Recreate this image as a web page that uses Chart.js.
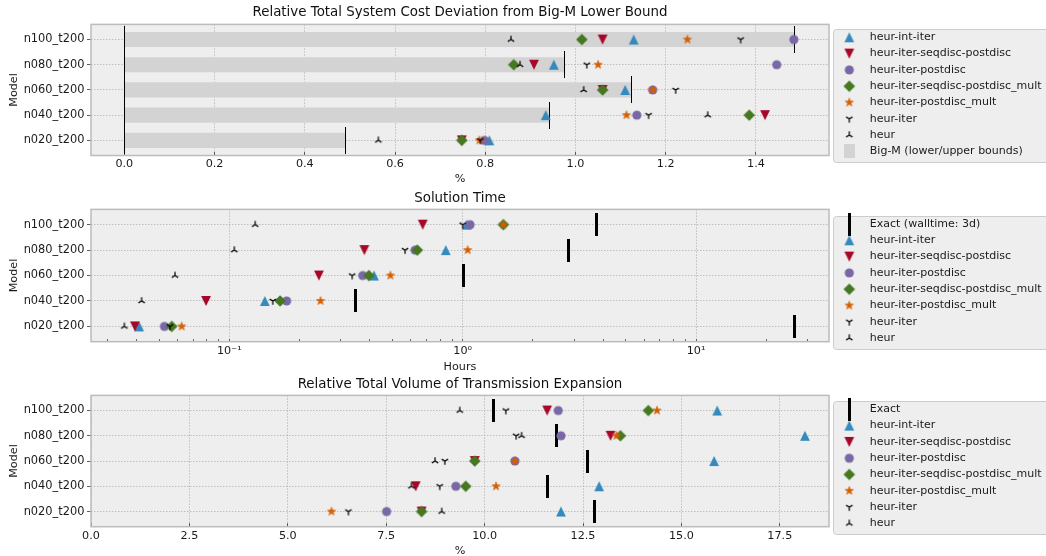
<!DOCTYPE html>
<html lang="en">
<head>
<meta charset="utf-8">
<title>Heuristics vs Exact</title>
<script src="https://cdn.jsdelivr.net/npm/chart.js@4.4.1/dist/chart.umd.min.js"></script>
<style>
    html, body { margin: 0; padding: 0; background: #ffffff; }
    body { width: 1046px; height: 556px; overflow: hidden; position: relative; }
    canvas { position: absolute; left: 0; }
</style>
</head>
<body>
<canvas id="graficoCusto" width="1046" height="188" style="top:0px"></canvas>
<canvas id="graficoTempo" width="1046" height="189" style="top:185px"></canvas>
<canvas id="graficoVolume" width="1046" height="187" style="top:371px"></canvas>
<script>
// Modelos, de cima para baixo
const modelos = ['n100_t200', 'n080_t200', 'n060_t200', 'n040_t200', 'n020_t200'];

// Heurísticas, na ordem da legenda
const nomesSeries = ['heur-int-iter', 'heur-iter-seqdisc-postdisc', 'heur-iter-postdisc',
    'heur-iter-seqdisc-postdisc_mult', 'heur-iter-postdisc_mult', 'heur-iter', 'heur'];

// Desvio relativo do custo total (%) em relação ao limite inferior do Big-M
const custoIntIter = [1.129, 0.952, 1.110, 0.934, 0.809];
const custoSeqdisc = [1.060, 0.908, 1.060, 1.420, 0.748];
const custoPostdisc = [1.484, 1.446, 1.171, 1.136, 0.798];
const custoSeqdiscMult = [1.014, 0.863, 1.060, 1.385, 0.748];
const custoPostdiscMult = [1.248, 1.050, 1.171, 1.113, 0.787];
const custoIter = [1.366, 1.025, 1.222, 1.162, 0.789];
const custoHeur = [0.857, 0.877, 1.018, 1.293, 0.563];
const bigMInferior = [0, 0, 0, 0, 0];
const bigMSuperior = [1.486, 0.976, 1.123, 0.942, 0.490];

// Tempo de solução (horas)
const tempoExato = [3.75, 2.835, 1.01, 0.348, 26.5];
const tempoIntIter = [1.04, 0.846, 0.417, 0.142, 0.0411];
const tempoSeqdisc = [0.674, 0.379, 0.242, 0.0795, 0.0394];
const tempoPostdisc = [1.075, 0.625, 0.373, 0.176, 0.0527];
const tempoSeqdiscMult = [1.493, 0.639, 0.396, 0.165, 0.0567];
const tempoPostdiscMult = [1.493, 1.05, 0.490, 0.246, 0.0625];
const tempoIter = [1.0, 0.566, 0.336, 0.1535, 0.0557];
const tempoHeur = [0.129, 0.105, 0.0585, 0.0421, 0.0355];

// Volume relativo de expansão da transmissão (%)
const volumeExato = [10.22, 11.83, 12.61, 11.59, 12.78];
const volumeIntIter = [15.91, 18.14, 15.83, 12.91, 11.94];
const volumeSeqdisc = [11.59, 13.20, 9.75, 8.25, 8.40];
const volumePostdisc = [11.87, 11.94, 10.77, 9.27, 7.51];
const volumeSeqdiscMult = [14.16, 13.45, 9.75, 9.52, 8.40];
const volumePostdiscMult = [14.38, 13.35, 10.77, 10.29, 6.11];
const volumeIter = [10.54, 10.80, 8.99, 8.86, 6.54];
const volumeHeur = [9.37, 10.94, 8.74, 8.14, 8.91];

// Marcas dos eixos
const ticksCusto = [0, 0.2, 0.4, 0.6, 0.8, 1.0, 1.2, 1.4];
const ticksTempo = [0.1, 1, 10];
const rotulosTempo = ['10⁻¹', '10⁰', '10¹'];
const ticksTempoMenores = [0.03, 0.04, 0.05, 0.06, 0.07, 0.08, 0.09, 0.2, 0.3, 0.4, 0.5, 0.6, 0.7, 0.8, 0.9,
    2, 3, 4, 5, 6, 7, 8, 9, 20, 30];
const ticksVolume = [0, 2.5, 5, 7.5, 10, 12.5, 15, 17.5];

Chart.defaults.font.family = "'DejaVu Sans', sans-serif";
Chart.defaults.font.size = 11;
const corTexto = '#1a1a1a';

function novoCanvas(w, h) {
    const c = document.createElement('canvas');
    c.width = w;
    c.height = h;
    return c;
}

// Marcadores no estilo do matplotlib (o Chart.js não tem estrela cheia nem os 'tri')
function marcador(tipo, cor) {
    let c, g;
    if (tipo === '^' || tipo === 'v') {
        c = novoCanvas(12, 12); g = c.getContext('2d');
        const s = tipo === '^' ? 1 : -1;
        g.translate(6, 6);
        g.beginPath();
        g.moveTo(0, -4.9 * s);
        g.lineTo(4.9, 4.9 * s);
        g.lineTo(-4.9, 4.9 * s);
        g.closePath();
        g.fillStyle = cor;
        g.fill();
    } else if (tipo === 'o') {
        c = novoCanvas(12, 12); g = c.getContext('2d');
        g.beginPath();
        g.arc(6, 6, 4.6, 0, Math.PI * 2);
        g.fillStyle = cor;
        g.fill();
    } else if (tipo === 'D') {
        c = novoCanvas(14, 14); g = c.getContext('2d');
        g.beginPath();
        g.moveTo(7, 1.2); g.lineTo(12.8, 7); g.lineTo(7, 12.8); g.lineTo(1.2, 7);
        g.closePath();
        g.fillStyle = cor;
        g.fill();
    } else if (tipo === '*') {
        c = novoCanvas(12, 12); g = c.getContext('2d');
        g.translate(6, 6);
        g.beginPath();
        for (let k = 0; k < 10; k++) {
            const r = k % 2 === 0 ? 4.4 : 1.8;
            const a = -Math.PI / 2 + k * Math.PI / 5;
            g.lineTo(r * Math.cos(a), r * Math.sin(a));
        }
        g.closePath();
        g.fillStyle = cor;
        g.fill();
        g.strokeStyle = cor;
        g.lineWidth = 0.6;
        g.stroke();
    } else {
        // '1' = Y (tri_down), '2' = ⅄ (tri_up)
        c = novoCanvas(10, 10); g = c.getContext('2d');
        const s = tipo === '1' ? 1 : -1;
        g.translate(5, 5);
        g.strokeStyle = cor;
        g.lineWidth = 1.25;
        g.beginPath();
        g.moveTo(0, 0); g.lineTo(0, 3.7 * s);
        g.moveTo(0, 0); g.lineTo(3.2, -1.85 * s);
        g.moveTo(0, 0); g.lineTo(-3.2, -1.85 * s);
        g.stroke();
    }
    return c;
}

function retangulo(w, h, cor) {
    const c = novoCanvas(w, h);
    const g = c.getContext('2d');
    g.fillStyle = cor;
    g.fillRect(0, 0, w, h);
    return c;
}

const estilos = [
    marcador('^', '#348ABD'),
    marcador('v', '#A60628'),
    marcador('o', '#7A68A6'),
    marcador('D', '#467821'),
    marcador('*', '#D55E00'),
    marcador('1', '#000000'),
    marcador('2', '#000000')
];
const linhaExato = retangulo(3, 23, '#000000');
const linhaLimite = retangulo(1, 27, '#000000');
const caixaBigM = retangulo(11, 14, '#d3d3d3');

function pontos(valores) {
    return valores.map((v, i) => ({ x: v, y: i }));
}

function serie(rotulo, valores, estilo, ordem) {
    return { label: rotulo, data: pontos(valores), pointStyle: estilo, pointRadius: 5, pointHoverRadius: 5, order: ordem };
}

// As 7 heurísticas: a última fica por cima, como no matplotlib
function seriesHeuristicas(listas) {
    return listas.map((valores, i) => serie(nomesSeries[i], valores, estilos[i], 10 - i));
}

function itemLegenda(texto, estilo) {
    return { text: texto, pointStyle: estilo, fillStyle: 'rgba(0,0,0,0)', strokeStyle: 'rgba(0,0,0,0)',
        lineWidth: 0, hidden: false, fontColor: corTexto };
}

const legendaHeur = nomesSeries.map((n, i) => itemLegenda(n, estilos[i]));

// Fundo cinza da área do gráfico, moldura e caixa da legenda
const pluginFundo = {
    id: 'fundo',
    beforeDraw(chart, args, opts) {
        const { ctx, chartArea: a, legend } = chart;
        ctx.save();
        ctx.fillStyle = '#eeeeee';
        ctx.fillRect(a.left, a.top, a.right - a.left, a.bottom - a.top);
        const topo = opts.primeiraLinha - 8.5;
        const altura = (opts.linhas - 1) * 16.3 + 19.3;
        ctx.beginPath();
        ctx.roundRect(legend.left + 4.5, Math.round(topo) + 0.5, 300, Math.round(altura), 3);
        ctx.fillStyle = '#eeeeee';
        ctx.fill();
        ctx.strokeStyle = '#cccccc';
        ctx.lineWidth = 1;
        ctx.stroke();
        ctx.restore();
    },
    afterDatasetsDraw(chart) {
        const { ctx, chartArea: a } = chart;
        ctx.save();
        ctx.strokeStyle = '#bcbcbc';
        ctx.lineWidth = 1.5;
        ctx.strokeRect(a.left, a.top, a.right - a.left, a.bottom - a.top);
        ctx.restore();
    }
};

function eixoX(cfg) {
    return Object.assign({
        afterFit: s => { s.height = cfg.altura; },
        afterBuildTicks: s => { s.ticks = cfg.marcas.map(v => ({ value: v })); },
        ticks: { color: corTexto, font: { size: 11.2 }, padding: cfg.pad, autoSkip: false, maxRotation: 0,
            callback: v => v.toFixed(1) },
        grid: { color: '#b2b2b2', lineWidth: 0.8, tickLength: -3.5, tickColor: '#333333' },
        border: { display: false, dash: [1.5, 1.5] },
        title: { display: true, text: cfg.titulo, color: corTexto, font: { size: 11.2 }, padding: { top: 0, bottom: cfg.padTitulo } }
    }, cfg.extra);
}

function criarGrafico(idCanvas, cfg) {
    const escalaY = {
        type: 'linear', min: -0.6, max: 4.6, reverse: true, offset: false,
        afterFit: s => { s.width = 91; },
        afterBuildTicks: s => { s.ticks = modelos.map((m, i) => ({ value: i })); },
        ticks: { color: corTexto, font: { size: 11.4 }, padding: 2.5, autoSkip: false, callback: v => modelos[v] },
        grid: { color: '#b2b2b2', lineWidth: 0.8, tickLength: 4, tickColor: '#333333', offset: false },
        border: { display: false, dash: [1.5, 1.5] },
        title: { display: true, text: 'Model', color: corTexto, font: { size: 11.2 }, padding: { top: 7, bottom: 0 } }
    };

    return new Chart(document.getElementById(idCanvas), {
        type: 'scatter',
        data: { datasets: cfg.datasets },
        options: {
            responsive: false,
            animation: false,
            events: [],
            layout: { padding: 0 },
            scales: { x: cfg.escalaX, y: escalaY },
            plugins: {
                title: { display: true, text: cfg.titulo, fullSize: false, color: '#111111',
                    font: { size: 13.4, weight: 'normal' }, padding: { top: cfg.padTitulo, bottom: 8.3 - cfg.padTitulo } },
                legend: {
                    position: 'right', align: 'start', fullSize: true, maxWidth: 217,
                    title: { display: true, text: '', font: { size: 1 },
                        padding: { top: cfg.primeiraLinha - 5.3 - 5.5 - 1.2, bottom: 0 } },
                    labels: { usePointStyle: true, pointStyleWidth: 30, padding: 5.3, color: corTexto,
                        font: { size: 11 }, generateLabels: () => cfg.legenda }
                },
                tooltip: { enabled: false },
                fundo: { primeiraLinha: cfg.primeiraLinha, linhas: cfg.legenda.length }
            }
        },
        plugins: [pluginFundo]
    });
}

// Painel 1: custo
criarGrafico('graficoCusto', {
    titulo: 'Relative Total System Cost Deviation from Big-M Lower Bound',
    padTitulo: 4.5,
    primeiraLinha: 37.3,
    escalaX: eixoX({ titulo: '%', altura: 32.5, pad: 5.7, padTitulo: 2, marcas: ticksCusto,
        extra: { type: 'linear', min: -0.0738, max: 1.5618 } }),
    legenda: legendaHeur.concat([itemLegenda('Big-M (lower/upper bounds)', caixaBigM)]),
    datasets: seriesHeuristicas([custoIntIter, custoSeqdisc, custoPostdisc, custoSeqdiscMult,
        custoPostdiscMult, custoIter, custoHeur]).concat([
        { label: 'Big-M lower', data: pontos(bigMInferior), pointStyle: linhaLimite, pointRadius: 5, order: 50 },
        { label: 'Big-M upper', data: pontos(bigMSuperior), pointStyle: linhaLimite, pointRadius: 5, order: 50 },
        {
            type: 'bar', label: 'Big-M (lower/upper bounds)', indexAxis: 'y',
            data: bigMSuperior.map((v, i) => ({ x: [bigMInferior[i], v], y: i })),
            backgroundColor: '#d3d3d3', barThickness: 14.5, order: 100
        }
    ])
});

// Painel 2: tempo de solução (escala log)
const eixoTempo = eixoX({ titulo: 'Hours', altura: 32.3, pad: 5.2, padTitulo: 0,
    marcas: ticksTempoMenores.concat(ticksTempo).sort((a, b) => a - b),
    extra: { type: 'logarithmic', min: 0.02555, max: 37.1 } });
eixoTempo.ticks.callback = v => {
    const i = ticksTempo.indexOf(v);
    return i >= 0 ? rotulosTempo[i] : '';
};
eixoTempo.grid.color = ctx => (ctx.tick && ticksTempo.includes(ctx.tick.value)) ? '#b2b2b2' : 'rgba(0,0,0,0)';
eixoTempo.grid.tickLength = -2.5;

criarGrafico('graficoTempo', {
    titulo: 'Solution Time',
    padTitulo: 5.5,
    primeiraLinha: 39,
    escalaX: eixoTempo,
    legenda: [itemLegenda('Exact (walltime: 3d)', linhaExato)].concat(legendaHeur),
    datasets: [serie('Exact (walltime: 3d)', tempoExato, linhaExato, 20)].concat(
        seriesHeuristicas([tempoIntIter, tempoSeqdisc, tempoPostdisc, tempoSeqdiscMult,
            tempoPostdiscMult, tempoIter, tempoHeur]))
});

// Painel 3: volume de expansão
criarGrafico('graficoVolume', {
    titulo: 'Relative Total Volume of Transmission Expansion',
    padTitulo: 5.5,
    primeiraLinha: 38.3,
    escalaX: eixoX({ titulo: '%', altura: 31.3, pad: 5.9, padTitulo: 0, marcas: ticksVolume,
        extra: { type: 'linear', min: 0, max: 18.75 } }),
    legenda: [itemLegenda('Exact', linhaExato)].concat(legendaHeur),
    datasets: [serie('Exact', volumeExato, linhaExato, 20)].concat(
        seriesHeuristicas([volumeIntIter, volumeSeqdisc, volumePostdisc, volumeSeqdiscMult,
            volumePostdiscMult, volumeIter, volumeHeur]))
});
</script>
</body>
</html>
